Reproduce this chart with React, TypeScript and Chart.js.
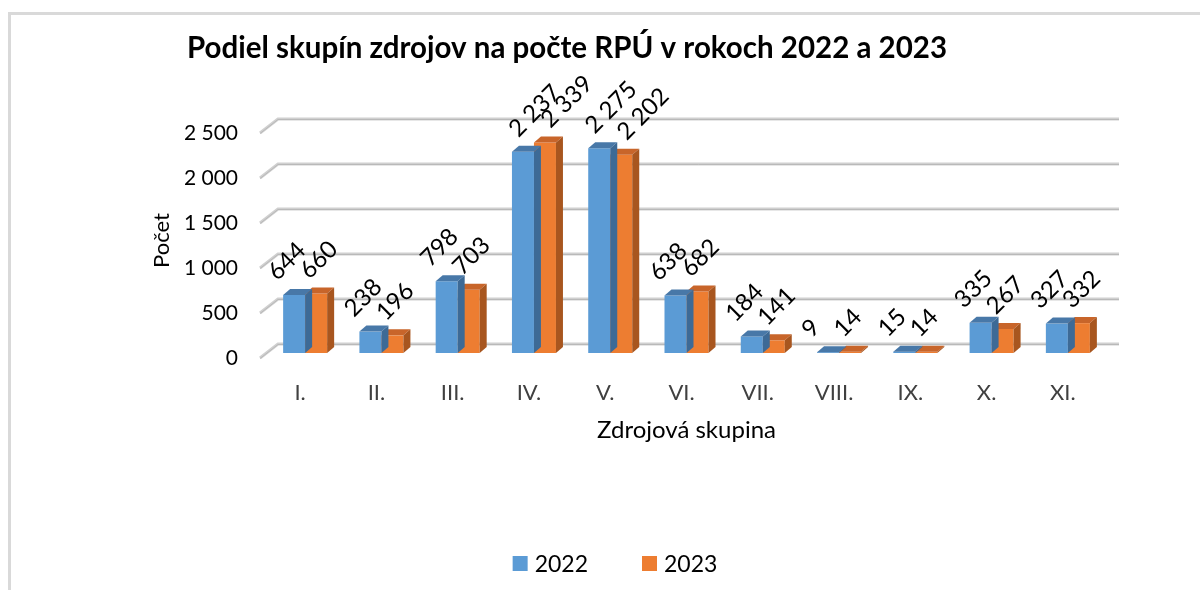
import React, { useEffect, useRef } from 'react';
import { Chart, registerables } from 'chart.js';

Chart.register(...registerables);

// ---- data ----
const categories = ['I.', 'II.', 'III.', 'IV.', 'V.', 'VI.', 'VII.', 'VIII.', 'IX.', 'X.', 'XI.'];
const values2022 = [644, 238, 798, 2237, 2275, 638, 184, 9, 15, 335, 327];
const values2023 = [660, 196, 703, 2339, 2202, 682, 141, 14, 14, 267, 332];
const seriesNames = ['2022', '2023'];
const yMin = 0;
const yMax = 2500;
const yStep = 500;
const chartTitle = 'Podiel skupín zdrojov na počte RPÚ v rokoch 2022 a 2023';
const yAxisTitle = 'Počet';
const xAxisTitle = 'Zdrojová skupina';

// ---- styles ----
const FRONT = ['#5b9bd5', '#ed7d31'];
const TOPC = ['#4878a8', '#c8652a'];
const SIDE = ['#3d6a96', '#a8561f'];
const DX = 7;
const DY = 6;
const FONT = 'Lato';

const fmt = (v: number) => String(v).replace(/\B(?=(\d{3})+(?!\d))/g, ' ');

const deco = {
  id: 'deco',
  beforeDraw(chart: any) {
    const ctx = chart.ctx;
    ctx.save();
    ctx.fillStyle = '#ffffff';
    ctx.fillRect(0, 0, chart.width, chart.height);
    ctx.strokeStyle = '#d9d9d9';
    ctx.lineWidth = 3;
    ctx.beginPath();
    ctx.moveTo(9.5, chart.height + 5);
    ctx.lineTo(9.5, 13.5);
    ctx.lineTo(chart.width + 5, 13.5);
    ctx.stroke();
    ctx.restore();
  },
  beforeDatasetsDraw(chart: any) {
    const ctx = chart.ctx;
    const s = chart.scales.y;
    const { left, right } = chart.chartArea;
    ctx.save();
    s.ticks.forEach((t: any) => {
      const y = s.getPixelForValue(t.value);
      ctx.beginPath();
      ctx.moveTo(left - 7, y + 5);
      ctx.lineTo(left + 11, y - 9);
      ctx.lineTo(right + 13, y - 9);
      ctx.strokeStyle = '#d0d0d0';
      ctx.lineWidth = 3;
      ctx.stroke();
      ctx.beginPath();
      ctx.moveTo(left - 7, y + 5.5);
      ctx.lineTo(left + 11, y - 8.5);
      ctx.lineTo(right + 13, y - 8.5);
      ctx.strokeStyle = '#b9b9b9';
      ctx.lineWidth = 1;
      ctx.stroke();
    });
    ctx.restore();
  },
  afterDatasetDraw(chart: any, args: any) {
    const ctx = chart.ctx;
    const i = args.index;
    const meta = chart.getDatasetMeta(i);
    ctx.save();
    meta.data.forEach((el: any) => {
      const { x, y, base, width } = el.getProps(['x', 'y', 'base', 'width'], true);
      const l = x - width / 2;
      const r = x + width / 2;
      ctx.fillStyle = TOPC[i];
      ctx.beginPath();
      ctx.moveTo(l, y);
      ctx.lineTo(l + DX, y - DY);
      ctx.lineTo(r + DX, y - DY);
      ctx.lineTo(r, y);
      ctx.closePath();
      ctx.fill();
      ctx.fillStyle = SIDE[i];
      ctx.beginPath();
      ctx.moveTo(r, y);
      ctx.lineTo(r + DX, y - DY);
      ctx.lineTo(r + DX, base - DY);
      ctx.lineTo(r, base);
      ctx.closePath();
      ctx.fill();
    });
    ctx.restore();
  },
  afterDatasetsDraw(chart: any) {
    const ctx = chart.ctx;
    ctx.save();
    ctx.font = `24px ${FONT}`;
    ctx.fillStyle = '#000';
    ctx.textAlign = 'left';
    ctx.textBaseline = 'middle';
    chart.data.datasets.forEach((ds: any, i: number) => {
      const meta = chart.getDatasetMeta(i);
      meta.data.forEach((el: any, j: number) => {
        const txt = fmt(ds.data[j]);
        const w = ctx.measureText(txt).width;
        const extra = w > 50 ? 12 : 0;
        const sx = el.x + (i === 0 ? -22 : -12) + extra;
        const sy = el.y - 19;
        ctx.save();
        ctx.translate(sx, sy);
        ctx.rotate(-Math.PI / 4);
        ctx.fillText(txt, 0, 0);
        ctx.restore();
      });
    });
    ctx.restore();
  },
  afterDraw(chart: any) {
    const ctx = chart.ctx;
    ctx.save();
    // title
    ctx.font = `bold 29.5px ${FONT}`;
    ctx.fillStyle = '#000';
    ctx.textAlign = 'center';
    ctx.textBaseline = 'alphabetic';
    ctx.fillText(chartTitle, 567, 58);
    // legend
    ctx.font = `23px ${FONT}`;
    ctx.textAlign = 'left';
    const box = 15, gap = 7, itemGap = 54;
    const widths = seriesNames.map((n) => ctx.measureText(n).width);
    const total = widths.reduce((a, w) => a + box + gap + w, 0) + itemGap * (seriesNames.length - 1);
    let x = 615 - total / 2;
    seriesNames.forEach((n, i) => {
      ctx.fillStyle = FRONT[i];
      ctx.fillRect(x, 556, box, box);
      ctx.fillStyle = '#000';
      ctx.fillText(n, x + box + gap, 572);
      x += box + gap + widths[i] + itemGap;
    });
    ctx.restore();
  },
};

export default function App() {
  const ref = useRef<HTMLCanvasElement>(null);
  useEffect(() => {
    const chart = new Chart(ref.current as HTMLCanvasElement, {
      type: 'bar',
      data: {
        labels: categories,
        datasets: [
          { label: seriesNames[0], data: values2022, backgroundColor: FRONT[0], categoryPercentage: 0.577, barPercentage: 1 },
          { label: seriesNames[1], data: values2023, backgroundColor: FRONT[1], categoryPercentage: 0.577, barPercentage: 1 },
        ],
      },
      options: {
        animation: false,
        responsive: false,
        devicePixelRatio: 1,
        layout: { padding: { left: 140, right: 94, top: 128, bottom: 145 } },
        plugins: {
          legend: { display: false },
          title: { display: false },
          tooltip: { enabled: false },
        },
        scales: {
          x: {
            grid: { display: false, drawTicks: false },
            border: { display: false },
            ticks: { font: { family: FONT, size: 22 }, color: '#404040', padding: 27, labelOffset: -5 },
            title: { display: true, text: xAxisTitle, font: { family: FONT, size: 24 }, color: '#000', padding: 0 },
            afterFit: (s: any) => { s.height = 92; },
          },
          y: {
            min: yMin,
            max: yMax,
            grid: { display: false, drawTicks: false },
            border: { display: false },
            ticks: {
              stepSize: yStep,
              font: { family: FONT, size: 21 },
              color: '#000',
              padding: 29,
              labelOffset: 5,
              callback: (v: any) => fmt(Number(v)),
            },
            title: { display: true, text: yAxisTitle, font: { family: FONT, size: 22 }, color: '#000', padding: { top: 9, bottom: 0 } },
            afterFit: (s: any) => { s.width = 127; },
          },
        },
      },
      plugins: [deco],
    } as any);
    return () => chart.destroy();
  }, []);
  return (
    <div style={{ position: 'absolute', left: 0, top: 0, width: 1200, height: 590 }}>
      <canvas ref={ref} width={1200} height={590} style={{ display: 'block' }} />
    </div>
  );
}
